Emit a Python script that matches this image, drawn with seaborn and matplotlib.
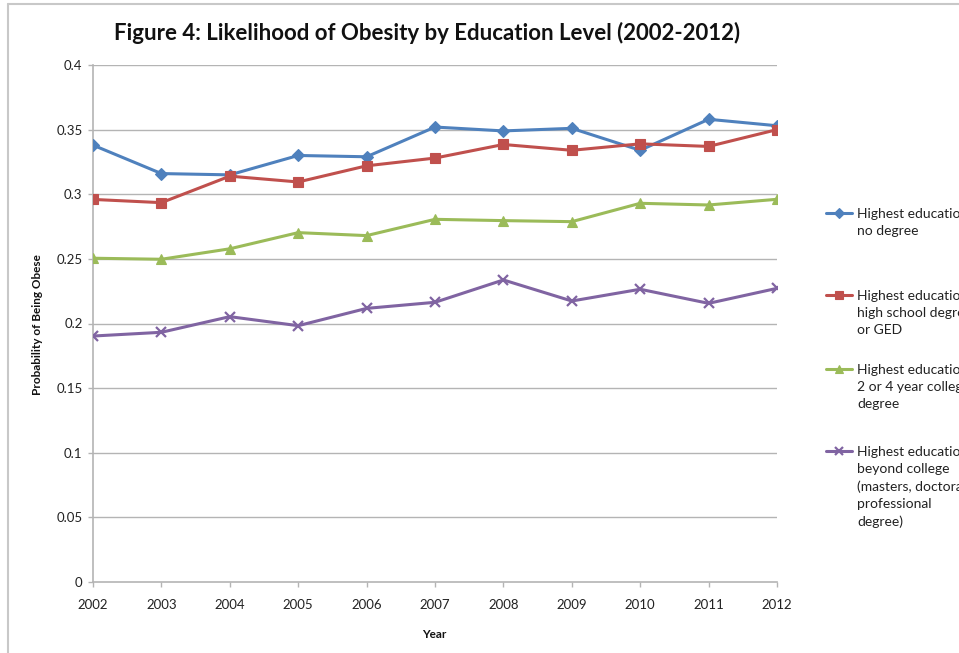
import matplotlib
matplotlib.use("Agg")
import matplotlib.pyplot as plt
from matplotlib.lines import Line2D
import pandas as pd
import seaborn as sns

# Survey years and estimated probability of obesity per education group
years = [2002, 2003, 2004, 2005, 2006, 2007, 2008, 2009, 2010, 2011, 2012]
no_degree = [0.338, 0.316, 0.315, 0.330, 0.329, 0.352, 0.349, 0.351, 0.334, 0.358, 0.353]
high_school = [0.296, 0.2935, 0.314, 0.3095, 0.322, 0.328, 0.3385, 0.334, 0.339, 0.337, 0.350]
college = [0.2505, 0.2497, 0.2578, 0.2703, 0.268, 0.2806, 0.2796, 0.2788, 0.293, 0.2917, 0.2961]
beyond_college = [0.1903, 0.1932, 0.2053, 0.1983, 0.2117, 0.2164, 0.2337, 0.2174, 0.2265, 0.2156, 0.2272]

series_names = ["no_degree", "high_school", "college", "beyond_college"]
legend_labels = [
    "Highest education:\nno degree",
    "Highest education:\nhigh school degree\nor GED",
    "Highest education:\n2 or 4 year college\ndegree",
    "Highest education:\nbeyond college\n(masters, doctoral,\nprofessional\ndegree)",
]
y_ticks = [0, 0.05, 0.1, 0.15, 0.2, 0.25, 0.3, 0.35, 0.4]
y_tick_labels = ["0", "0.05", "0.1", "0.15", "0.2", "0.25", "0.3", "0.35", "0.4"]

colors = ["#4F81BD", "#C0504D", "#9BBB59", "#8064A2"]
marker_styles = ["D", "s", "^", "x"]
marker_sizes = [6.0, 7.0, 7.5, 7.5]

sns.set_theme(style="white")
plt.rcParams["font.family"] = ["Lato", "DejaVu Sans"]

df = pd.DataFrame({
    "Year": years * 4,
    "Probability": no_degree + high_school + college + beyond_college,
    "Group": [name for name in series_names for _ in years],
})

W, H = 959, 653
fig = plt.figure(figsize=(W / 100, H / 100), dpi=100)
ax = fig.add_axes([93 / W, 1 - 582 / H, (777 - 93) / W, (582 - 65) / H])

for name, c, mk, ms in zip(series_names, colors, marker_styles, marker_sizes):
    sub = df[df["Group"] == name]
    sns.lineplot(
        data=sub, x="Year", y="Probability", color=c, marker=mk,
        markersize=ms, markeredgecolor=c, markerfacecolor=c,
        markeredgewidth=1.6 if mk == "x" else 0.8,
        linewidth=2.2, legend=False, ax=ax, zorder=3,
    )

grid_color = "#b4b4b4"
ax.set_xlim(years[0], years[-1])
ax.set_ylim(0, 0.4)
ax.set_xticks(years)
ax.set_xticklabels([str(y) for y in years])
ax.set_yticks(y_ticks)
ax.set_yticklabels(y_tick_labels)
ax.grid(False)
for yv in y_ticks[1:]:
    ax.axhline(yv, color=grid_color, lw=1.0, zorder=1)
for side in ["top", "right"]:
    ax.spines[side].set_visible(False)
for side in ["left", "bottom"]:
    ax.spines[side].set_color(grid_color)
    ax.spines[side].set_linewidth(1.2)
ax.tick_params(axis="both", direction="out", length=3.5, width=1.0, color=grid_color,
               labelsize=9.5, labelcolor="#222222")
ax.tick_params(axis="x", pad=9, bottom=True)
ax.tick_params(axis="y", pad=4, left=True)

ax.set_xlabel("")
ax.set_ylabel("")
fig.text(434 / W, 1 - 634 / H, "Year", ha="center", va="center",
         fontsize=8.5, fontweight="bold", color="#111111")
fig.text(38 / W, 1 - 325 / H, "Probability of Being Obese", ha="center", va="center",
         rotation=90, fontsize=8.5, fontweight="bold", color="#111111")
fig.text(427 / W, 1 - 33 / H, "Figure 4: Likelihood of Obesity by Education Level (2002-2012)",
         ha="center", va="center", fontsize=16, fontweight="bold", color="#111111")

# Legend entries, one per group, stacked down the right side
data_lines = [l for l in ax.lines if len(l.get_xdata()) == len(years)]
entry_tops = [208, 290, 364, 446]
for line, label, top in zip(data_lines, legend_labels, entry_tops):
    handle = Line2D([], [], color=line.get_color(), lw=2.2, marker=line.get_marker(),
                    markersize=line.get_markersize() * 0.85,
                    markerfacecolor=line.get_color(), markeredgecolor=line.get_color(),
                    markeredgewidth=line.get_markeredgewidth())
    leg = fig.legend(handles=[handle], labels=[label], loc="upper left",
                     bbox_to_anchor=(826 / W, 1 - top / H), frameon=False,
                     fontsize=10, handlelength=1.87, handletextpad=0.36,
                     handleheight=1.0, borderpad=0, borderaxespad=0)
    for t in leg.get_texts():
        t.set_linespacing(1.5)
        t.set_color("#222222")
    try:
        for column in leg._legend_handle_box.get_children():
            for item in column.get_children():
                item.align = "top"
    except AttributeError:
        pass

# Frame edges around the figure panel
fig.add_artist(Line2D([8 / W, 8 / W], [0, 1 - 4 / H], transform=fig.transFigure,
                      color="#c8c8c8", lw=1.5))
fig.add_artist(Line2D([8 / W, 1], [1 - 4 / H, 1 - 4 / H], transform=fig.transFigure,
                      color="#c8c8c8", lw=1.5))

fig.savefig("out.png", dpi=100)
